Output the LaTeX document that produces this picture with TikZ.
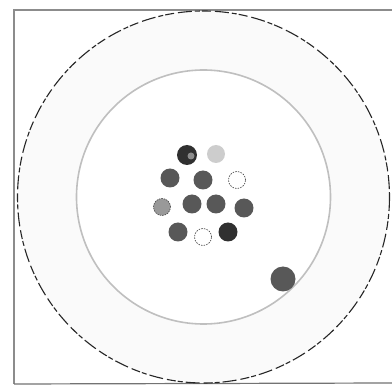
\documentclass[tikz,border=0pt]{standalone}
\begin{document}
\begin{tikzpicture}[x=1pt,y=-1pt,
  colony/.style={circle,draw=none,fill=cgray,minimum size=19pt,inner sep=0pt},
  emptycol/.style={circle,draw=black!80,dash pattern=on 1.5pt off 1.2pt,line width=0.6pt,fill=white,minimum size=17pt,inner sep=0pt},
  frameline/.style={draw=black!45,line width=1.5pt}]
\definecolor{cgray}{HTML}{585858}
\definecolor{cdark}{HTML}{303030}
\definecolor{clight}{HTML}{CDCDCD}
\definecolor{ring}{HTML}{FAFAFA}
\useasboundingbox (0,0) rectangle (392,385);
\fill[white] (0,0) rectangle (392,385);
% frame
\coordinate (ftr) at (392,10);
\coordinate (ftl) at (14,10);
\coordinate (fbl) at (14,384);
\coordinate (fbr) at (392,383);
\draw[frameline] (ftr) -- (ftl) -- (fbl);
\draw[draw=black!55,line width=1.2pt] (fbl) -- (fbr);
% dish
\coordinate (c) at (203.5,197);
\fill[ring] (c) circle[radius=186];
\fill[white] (c) circle[radius=127];
\draw[black!25,line width=1.6pt] (c) circle[radius=127];
\draw[black!85,line width=1.1pt,dash pattern=on 14pt off 3pt on 5pt off 2pt on 9pt off 4pt] (c) circle[radius=186];
% colonies
\node[colony,fill=cdark,minimum size=20pt] (k1) at (187,155) {};
\fill[black!45] (191,156) circle[radius=3.5];
\node[colony,fill=clight,minimum size=18pt] (k2) at (216,154) {};
\node[colony] (k3) at (170,178) {};
\node[colony] (k4) at (203,180) {};
\node[emptycol] (k5) at (237,180) {};
\node[colony,fill=black!40,draw=black!75,dash pattern=on 1.5pt off 1pt,line width=0.6pt,minimum size=17pt] (k6) at (162,207) {};
\node[colony] (k7) at (192,204) {};
\node[colony] (k8) at (216,204) {};
\node[colony] (k9) at (244,208) {};
\node[colony] (k10) at (178,232) {};
\node[emptycol] (k11) at (203,237) {};
\node[colony,fill=cdark] (k12) at (228,232) {};
\node[colony,minimum size=25pt] (k13) at (283,279) {};
\end{tikzpicture}
\end{document}
